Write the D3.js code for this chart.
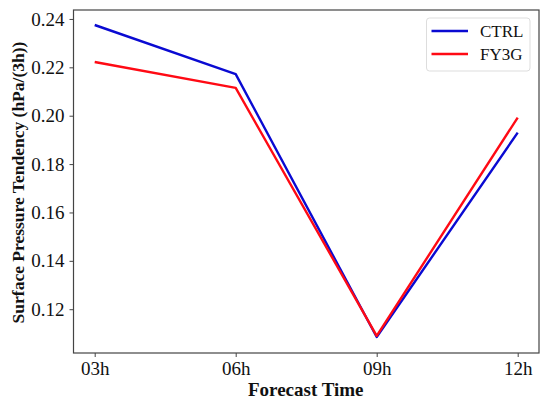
<!DOCTYPE html>
<html>
<head>
<meta charset="utf-8">
<script src="https://cdn.jsdelivr.net/npm/d3@7"></script>
<style>
  body { margin: 0; background: #fff; }
  text { font-family: "Liberation Serif", "Times New Roman", serif; }
</style>
</head>
<body>
<div id="chart-area"></div>
<script>
// data
var steps = ["03h", "06h", "09h", "12h"];
var ctrl = [0.2375, 0.2172, 0.1085, 0.1930];
var fy3g = [0.2222, 0.2115, 0.1090, 0.1992];
var yTicks = [0.12, 0.14, 0.16, 0.18, 0.20, 0.22, 0.24];

var width = 550,
    height = 408;

var plotLeft = 73.5, plotRight = 539, plotTop = 10, plotBottom = 353;

var svg = d3.select("#chart-area").append("svg")
    .attr("width", width)
    .attr("height", height);

var xScale = d3.scalePoint()
    .domain(steps)
    .range([94.7, 517.7]);

var yScale = d3.scaleLinear()
    .domain([0.1019, 0.2437])
    .range([plotBottom, plotTop]);

var series = [
    { name: "CTRL", values: ctrl, color: "#0a0ad2" },
    { name: "FY3G", values: fy3g, color: "#ff0a14" }
];

var line = d3.line()
    .x(function(d, i){ return xScale(steps[i]); })
    .y(function(d){ return yScale(d); });

series.forEach(function(s){
    svg.append("path")
        .datum(s.values)
        .attr("fill", "none")
        .attr("stroke", s.color)
        .attr("stroke-width", 2.4)
        .attr("stroke-linejoin", "round")
        .attr("d", line);
});

// frame
svg.append("rect")
    .attr("x", plotLeft)
    .attr("y", plotTop)
    .attr("width", plotRight - plotLeft)
    .attr("height", plotBottom - plotTop)
    .attr("fill", "none")
    .attr("stroke", "#444")
    .attr("stroke-width", 1.2);

var xAxis = d3.axisBottom(xScale).tickSize(4).tickPadding(5);
var gx = svg.append("g")
    .attr("transform", "translate(0," + plotBottom + ")")
    .call(xAxis);
gx.select(".domain").remove();

var yAxis = d3.axisLeft(yScale)
    .tickValues(yTicks)
    .tickFormat(d3.format(".2f"))
    .tickSize(4)
    .tickPadding(5);
var gy = svg.append("g")
    .attr("transform", "translate(" + plotLeft + ",0)")
    .call(yAxis);
gy.select(".domain").remove();

svg.selectAll(".tick line").attr("stroke", "#444").attr("stroke-width", 1);
svg.selectAll(".tick text")
    .attr("fill", "#111")
    .style("font-family", "'Liberation Serif', serif")
    .style("font-size", "19px");

svg.append("text")
    .attr("x", (plotLeft + plotRight) / 2 - 0.5)
    .attr("y", 396)
    .attr("text-anchor", "middle")
    .style("font-size", "19px")
    .style("font-weight", "bold")
    .attr("fill", "#111")
    .text("Forecast Time");

svg.append("text")
    .attr("transform", "translate(24," + ((plotTop + plotBottom) / 2 + 1) + ") rotate(-90)")
    .attr("text-anchor", "middle")
    .style("font-size", "17.5px")
    .style("font-weight", "bold")
    .attr("fill", "#111")
    .text("Surface Pressure Tendency (hPa/(3h))");

// legend
var legend = svg.append("g");
legend.append("rect")
    .attr("x", 426.5)
    .attr("y", 18)
    .attr("width", 103.5)
    .attr("height", 53)
    .attr("rx", 3)
    .attr("fill", "#fff")
    .attr("stroke", "#ddd")
    .attr("stroke-width", 1);

series.forEach(function(s, i){
    var ly = 31 + i * 23;
    legend.append("line")
        .attr("x1", 431.5)
        .attr("x2", 468)
        .attr("y1", ly)
        .attr("y2", ly)
        .attr("stroke", s.color)
        .attr("stroke-width", 2.4);
    legend.append("text")
        .attr("x", 480)
        .attr("y", ly + 6)
        .style("font-size", "17px")
        .attr("fill", "#111")
        .text(s.name);
});
</script>
</body>
</html>
